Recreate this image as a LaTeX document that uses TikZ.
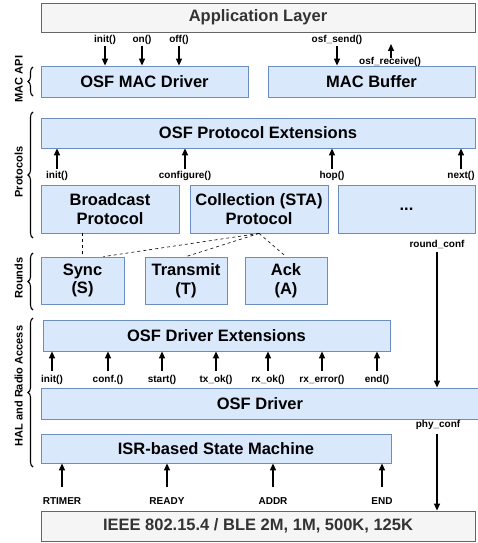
\documentclass[tikz,border=0pt]{standalone}
\usepackage{fontspec}
\setmainfont{Liberation Sans}
\usetikzlibrary{arrows.meta,positioning,calc,decorations.pathreplacing}
\definecolor{boxfill}{HTML}{DAE8FC}
\definecolor{boxline}{HTML}{6C8EBF}
\definecolor{grayfill}{HTML}{F5F5F5}
\definecolor{grayline}{HTML}{666666}
\definecolor{graytext}{HTML}{333333}

\begin{document}
\begin{tikzpicture}[x=1pt, y=-1pt,
		blk/.style={draw=boxline, fill=boxfill, line width=0.8pt, inner sep=0pt, align=center, font=\bfseries\fontsize{16.5}{18.5}\selectfont},
		gblk/.style={blk, draw=grayline, fill=grayfill, text=graytext},
		sz/.style 2 args={minimum width=#1pt, minimum height=#2pt},
		fn/.style={font=\bfseries\fontsize{10}{12}\selectfont, inner sep=1pt},
		call/.style={line width=1.3pt, -{Triangle[length=7pt, width=6pt]}},
		grp/.style={decorate, decoration={brace, amplitude=5pt}, line width=1.1pt},
		grplabel/.style={font=\bfseries\fontsize{11}{13}\selectfont, rotate=90, anchor=south, inner sep=1pt},
		link/.style={dashed, line width=0.6pt}]
		\useasboundingbox (0,0) rectangle (477,543);

		\node[gblk, sz={434}{29}] (app) at (258,17.5) {Application Layer};
		\node[blk, sz={207}{31}] (macdrv) at (144.5,81.5) {OSF MAC Driver};
		\node[blk, sz={207}{31}] (macbuf) at (371.5,81.5) {MAC Buffer};
		\node[blk, sz={434}{30}] (protext) at (258,133) {OSF Protocol Extensions};
		\node[blk, sz={138}{48}] (bcast) at (110,209) {Broadcast\\Protocol};
		\node[blk, sz={138}{48}] (coll) at (259,209) {Collection (STA)\\Protocol};
		\node[blk, sz={137}{48}] (more) at (406.5,209) {...};
		\node[blk, sz={83}{47}] (sync) at (82.5,280.5) {Sync\\(S)};
		\node[blk, sz={82}{47}] (tx) at (186,280.5) {Transmit\\(T)};
		\node[blk, sz={82}{47}] (ack) at (286,280.5) {Ack\\(A)};
		\node[blk, sz={347}{31}] (drvext) at (216.5,335.5) {OSF Driver Extensions};
		\node[blk, sz={438}{31}] (drv) at (260,403.5) {OSF Driver};
		\node[blk, sz={350}{29}] (isr) at (216,448.5) {ISR-based State Machine};
		\node[gblk, sz={434}{30}] (phy) at (258,526) {IEEE 802.15.4 / BLE 2M, 1M, 500K, 125K};

		\draw[grp] (33,96) -- (33,67);
		\draw[grp] (33,238) -- (33,112);
		\draw[grp] (33,310) -- (33,253);
		\draw[grp] (33,467) -- (33,318);
		\node[grplabel] (l-mac) at (24,79) {MAC API};
		\node[grplabel] (l-prot) at (24,172) {Protocols};
		\node[grplabel] (l-rnd) at (24,278) {Rounds};
		\node[grplabel] (l-hal) at (24,386) {HAL and Radio Access};

		\foreach \name/\x/\txt in {init/105/init(), on/142/on(), off/179/off(), send/337/osf\_send()} {
			\node[fn] (m-\name) at (\x,40) {\txt};
			\draw[call] (m-\name) -- (m-\name |- macdrv.north);
		}
		\node[fn] (m-recv) at (390,62) {osf\_receive()};
		\coordinate (m-recv-end) at (391,44);
		\draw[call, shorten <=-2pt] (m-recv-end |- m-recv.north) -- (m-recv-end);

		\foreach \name/\x/\txt in {init/57/init(), conf/185/configure(), hop/332/hop(), next/461/next()} {
			\node[fn] (p-\name) at (\x,176) {\txt};
			\draw[call, shorten <=1pt] (p-\name) -- (p-\name |- protext.south);
		}

		\draw[link] (sync.north |- bcast.south) -- (sync.north);
		\draw[link] (coll.south) -- ($(sync.north west)!0.75!(sync.north east)$);
		\draw[link] (coll.south) -- (tx.north);
		\draw[link] (coll.south) -- (ack.north);

		\foreach \name/\x/\txt in {init/52/init(), conf/108/conf.(), start/162/start(), txok/216/tx\_ok(), rxok/268/rx\_ok(), rxerr/322/rx\_error(), end/377/end()} {
			\node[fn] (d-\name) at (\x,380) {\txt};
			\draw[call, shorten <=3pt] (d-\name) -- (d-\name |- drvext.south);
		}

		\foreach \name/\x/\txt in {rtimer/62/RTIMER, ready/167/READY, addr/273/ADDR, end/382/END} {
			\node[fn] (i-\name) at (\x,501) {\txt};
			\draw[call, shorten <=9pt] (i-\name) -- (i-\name |- isr.south);
		}

		\node[fn] (rconf) at (437,244) {round\_conf};
		\draw[call, shorten <=3pt] (rconf) -- (rconf |- drv.north);
		\node[fn] (pconf) at (438,425) {phy\_conf};
		\draw[call, shorten <=3pt] (pconf.south -| rconf) -- (rconf |- phy.north);
	\end{tikzpicture}
\end{document}
